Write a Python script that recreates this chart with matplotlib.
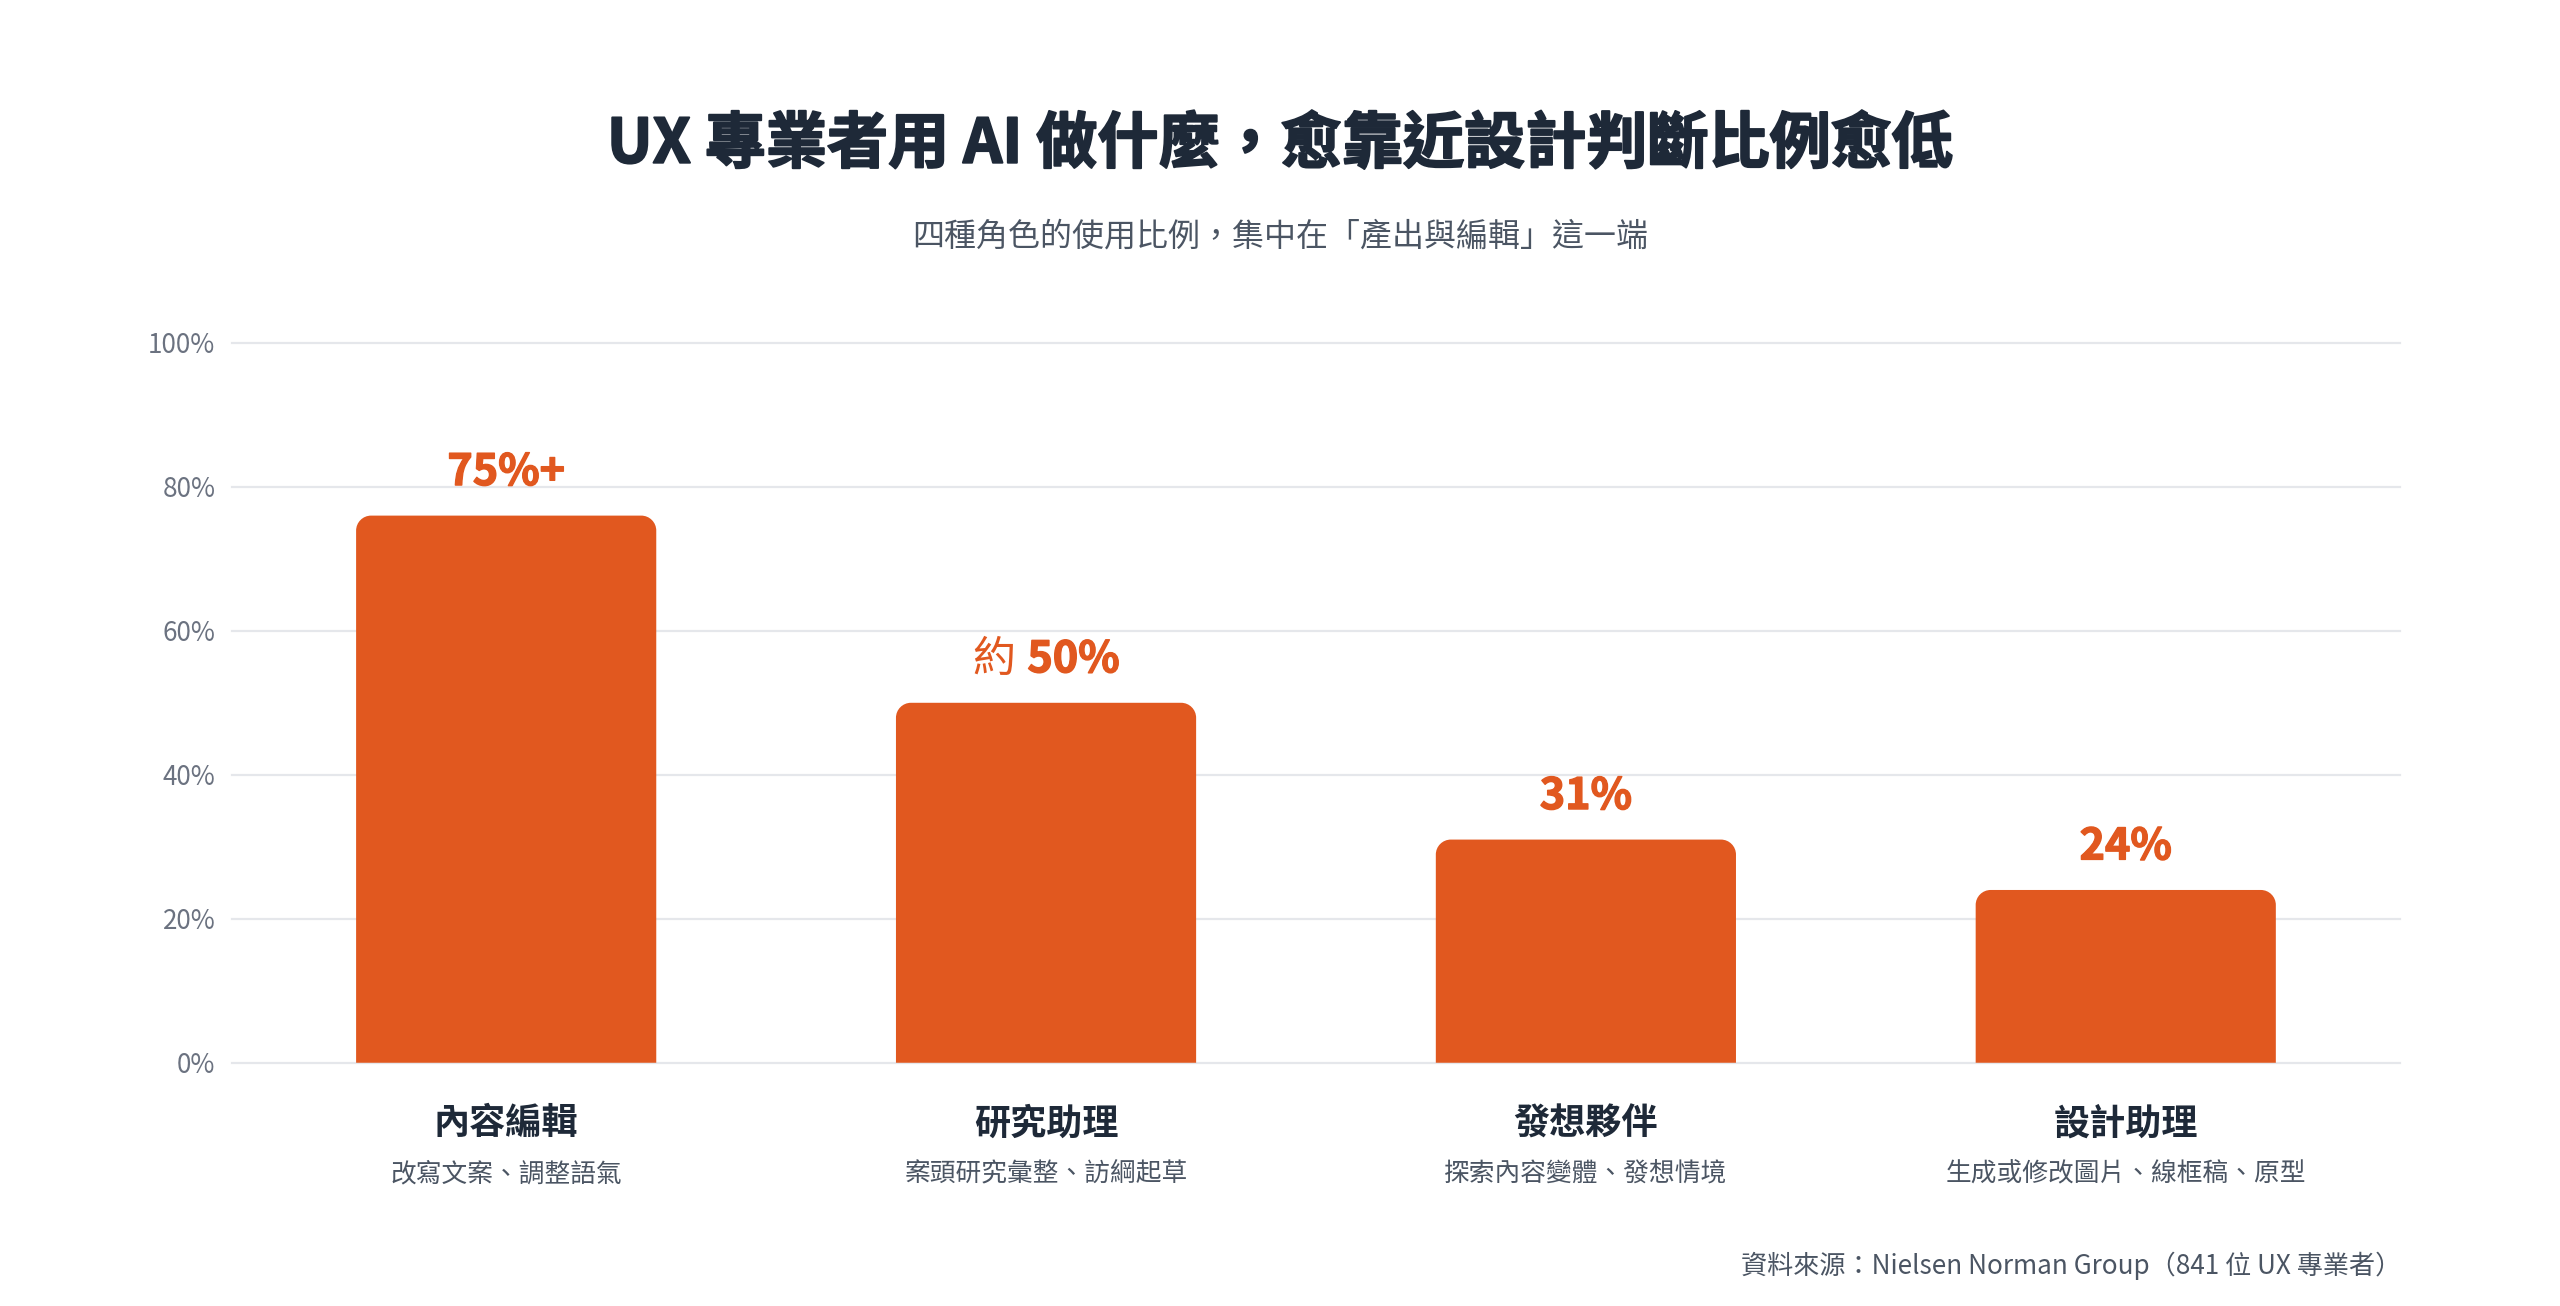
import matplotlib
matplotlib.use("Agg")
import matplotlib.pyplot as plt
import matplotlib.patheffects as pe
from matplotlib.path import Path
from matplotlib.patches import PathPatch
from matplotlib.transforms import blended_transform_factory

plt.rcParams["font.family"] = ["Noto Sans CJK TC", "DejaVu Sans"]

# Data
categories = ["內容編輯", "研究助理", "發想夥伴", "設計助理"]
descriptions = ["改寫文案、調整語氣", "案頭研究彙整、訪綱起草",
                "探索內容變體、發想情境", "生成或修改圖片、線框稿、原型"]
values = [76, 50, 31, 24]
label_prefix = ["", "約", "", ""]
label_main = ["75%+", "50%", "31%", "24%"]
yticks = [0, 20, 40, 60, 80, 100]
ytick_labels = ["0%", "20%", "40%", "60%", "80%", "100%"]

title = "UX 專業者用 AI 做什麼，愈靠近設計判斷比例愈低"
subtitle = "四種角色的使用比例，集中在「產出與編輯」這一端"
source = "資料來源：Nielsen Norman Group（841 位 UX 專業者）"

# Colours
bar_color = "#E1581F"
dark = "#1E2938"
gray = "#4B5563"
light_gray = "#6B7280"
grid_color = "#E5E7EB"

fig = plt.figure(figsize=(25.6, 13.06), dpi=100)
ax = fig.add_axes([0.0906, 0.18625, 0.8469, 0.55125])

x = list(range(len(categories)))
bars = ax.bar(x, values, width=0.556, color=bar_color, visible=False)
ax.set_xlim(-0.508, 3.508)
ax.set_ylim(0, 100)

# rounded top corners
radius_px = 15
ppu_x = ax.transData.transform((1, 0))[0] - ax.transData.transform((0, 0))[0]
ppu_y = ax.transData.transform((0, 1))[1] - ax.transData.transform((0, 0))[1]
rx, ry = radius_px / ppu_x, radius_px / ppu_y
k = 0.5523
for b in bars:
    x0, w, h = b.get_x(), b.get_width(), b.get_height()
    x1 = x0 + w
    verts = [(x0, 0), (x0, h - ry), (x0, h - ry + k * ry), (x0 + rx - k * rx, h),
             (x0 + rx, h), (x1 - rx, h), (x1 - rx + k * rx, h), (x1, h - ry + k * ry),
             (x1, h - ry), (x1, 0), (x0, 0)]
    codes = [Path.MOVETO, Path.LINETO, Path.CURVE4, Path.CURVE4, Path.CURVE4,
             Path.LINETO, Path.CURVE4, Path.CURVE4, Path.CURVE4, Path.LINETO,
             Path.CLOSEPOLY]
    ax.add_patch(PathPatch(Path(verts, codes), facecolor=bar_color,
                           edgecolor="none", zorder=3))

# Axes styling
for s in ax.spines.values():
    s.set_visible(False)
ax.set_yticks(yticks, ytick_labels)
ax.tick_params(axis="y", length=0, pad=12, labelsize=18.8, labelcolor=light_gray)
ax.set_xticks([])
ax.yaxis.grid(True, color=grid_color, linewidth=1.6)
ax.set_axisbelow(True)
for gl in ax.get_ygridlines():
    gl.set_clip_on(False)

# Value labels (prefix regular, number bold)
renderer = fig.canvas.get_renderer()
val_size = 31
heavy_val = [pe.withStroke(linewidth=1.0, foreground=bar_color)]
for xi, v, pre, main in zip(x, values, label_prefix, label_main):
    if not pre:
        ax.annotate(main, (xi, v), xytext=(0, 22), textcoords="offset points",
                    ha="center", va="baseline", fontsize=val_size,
                    fontweight="bold", color=bar_color, path_effects=heavy_val)
        continue
    t1 = ax.annotate(pre, (xi, v), xytext=(0, 22), textcoords="offset points",
                     ha="left", va="baseline", fontsize=val_size,
                     fontweight="normal", color=bar_color)
    t2 = ax.annotate(main, (xi, v), xytext=(0, 22), textcoords="offset points",
                     ha="left", va="baseline", fontsize=val_size,
                     fontweight="bold", color=bar_color, path_effects=heavy_val)
    w1 = t1.get_window_extent(renderer).width * 72 / fig.dpi
    w2 = t2.get_window_extent(renderer).width * 72 / fig.dpi
    gap = val_size * 0.28
    total = w1 + gap + w2
    t1.set_position((-total / 2, 22))
    t2.set_position((-total / 2 + w1 + gap, 22))

# Category labels
trans = blended_transform_factory(ax.transData, fig.transFigure)
for xi, cat, desc in zip(x, categories, descriptions):
    ax.text(xi, 0.1395, cat, transform=trans, ha="center", va="center",
            fontsize=26, fontweight="bold", color=dark)
    ax.text(xi, 0.1005, desc, transform=trans, ha="center", va="center",
            fontsize=18.5, color=gray)

# Title, subtitle, source
fig.text(0.5, 0.889, title, ha="center", va="center", fontsize=44,
         fontweight="black", color=dark,
         path_effects=[pe.withStroke(linewidth=1.4, foreground=dark)])
fig.text(0.5, 0.819, subtitle, ha="center", va="center", fontsize=23,
         fontweight="medium", color=gray)
fig.text(0.938, 0.031, source, ha="right", va="center", fontsize=18.8,
         color=gray)

fig.savefig("out.png", dpi=100)
